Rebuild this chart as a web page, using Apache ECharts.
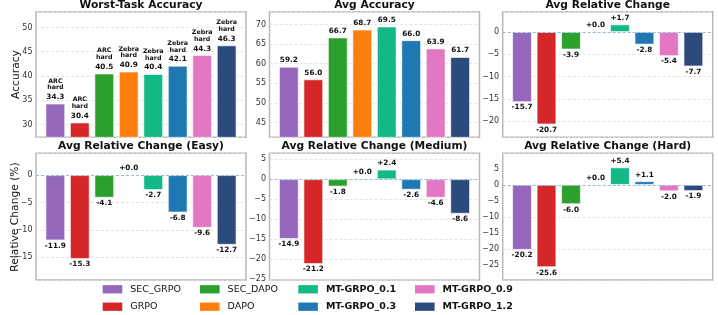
<!DOCTYPE html>
<html>
<head>
<meta charset="utf-8">
<script src="https://cdn.jsdelivr.net/npm/echarts@6/dist/echarts.min.js"></script>
<style>
html,body{margin:0;padding:0;background:#fff;}
#main{width:718px;height:315px;}
</style>
</head>
<body>
<div id="main"></div>
<script>
// ---- data ----
const methods = ['SEC_GRPO', 'GRPO', 'SEC_DAPO', 'DAPO', 'MT-GRPO_0.1', 'MT-GRPO_0.3', 'MT-GRPO_0.9', 'MT-GRPO_1.2'];
const worstTaskNames = ['ARC hard', 'ARC hard', 'ARC hard', 'Zebra hard', 'Zebra hard', 'Zebra hard', 'Zebra hard', 'Zebra hard'];
const worstTaskAccuracy = [34.3, 30.4, 40.5, 40.9, 40.4, 42.1, 44.3, 46.3];
const avgAccuracy = [59.2, 56.0, 66.7, 68.7, 69.5, 66.0, 63.9, 61.7];
const avgRelChange = [-15.7, -20.7, -3.9, 0.0, 1.7, -2.8, -5.4, -7.7];
const easyRelChange = [-11.9, -15.3, -4.1, 0.0, -2.7, -6.8, -9.6, -12.7];
const mediumRelChange = [-14.9, -21.2, -1.8, 0.0, 2.4, -2.6, -4.6, -8.6];
const hardRelChange = [-20.2, -25.6, -6.0, 0.0, 5.4, 1.1, -2.0, -1.9];
const ticksWorst = [30, 35, 40, 45, 50];
const ticksAvg = [45, 50, 55, 60, 65, 70];
const ticksRel = [-20, -15, -10, -5, 0];
const ticksEasy = [-15, -10, -5, 0];
const ticksMedium = [-25, -20, -15, -10, -5, 0, 5];
const ticksHard = [-25, -20, -15, -10, -5, 0, 5];

// ---- styles ----
const colors = ['#9467bd', '#d62728', '#2ca02c', '#ff7f0e', '#12b886', '#1f77b4', '#e377c2', '#2d4a7c'];
const FONT = 'DejaVu Sans';

const panels = [
  {title: 'Worst-Task Accuracy', values: worstTaskAccuracy, ticks: ticksWorst, min: 27.36, max: 53.25, left: 36, top: 11.7, h: 125.6, kind: 'worst'},
  {title: 'Avg Accuracy', values: avgAccuracy, ticks: ticksAvg, min: 41.2, max: 73.3, left: 269.5, top: 11.7, h: 125.6, kind: 'acc'},
  {title: 'Avg Relative Change', values: avgRelChange, ticks: ticksRel, min: -23.6, max: 4.55, left: 502.7, top: 11.7, h: 125.6, kind: 'rel'},
  {title: 'Avg Relative Change (Easy)', values: easyRelChange, ticks: ticksEasy, min: -19.15, max: 4.0, left: 36, top: 153.3, h: 126.7, kind: 'rel'},
  {title: 'Avg Relative Change (Medium)', values: mediumRelChange, ticks: ticksMedium, min: -25.2, max: 6.5, left: 269.5, top: 153.3, h: 126.7, kind: 'rel'},
  {title: 'Avg Relative Change (Hard)', values: hardRelChange, ticks: ticksHard, min: -29.6, max: 9.8, left: 502.7, top: 153.3, h: 126.7, kind: 'rel'}
];
const PW = 210;
const XMIN = -0.79, XMAX = 7.79;
const barW = 0.8 * PW / (XMAX - XMIN);

const grid = [], xAxis = [], yAxis = [], series = [], graphic = [];
panels.forEach((p, pi) => {
  grid.push({left: p.left, top: p.top, width: PW, height: p.h, show: true,
    borderColor: '#b8b8b8', borderWidth: 1.5, backgroundColor: 'transparent', containLabel: false});
  xAxis.push({type: 'value', gridIndex: pi, min: XMIN, max: XMAX, show: false, splitLine: {show: false}});
  yAxis.push({type: 'value', gridIndex: pi, min: p.min, max: p.max,
    axisLine: {show: false},
    axisTick: {show: false},
    axisLabel: {customValues: p.ticks, fontFamily: FONT, fontSize: 8, color: '#333', margin: 3.5,
      formatter: v => String(v).replace('-', '\u2212')},
    splitLine: {show: true, lineStyle: {type: [3, 2], color: '#dedede', width: 0.8}}
  });
  graphic.push({type: 'text', silent: true, x: p.left + PW / 2, y: p.top - 6.6,
    style: {text: p.title, fill: '#111', font: 'bold 10.7px "DejaVu Sans"', textAlign: 'center', textVerticalAlign: 'middle'}});

  methods.forEach((m, i) => {
    const v = p.values[i];
    let label;
    if (p.kind === 'worst') {
      const parts = worstTaskNames[i].split(' ');
      label = {show: true, position: 'top', distance: 0.5,
        formatter: () => '{t|' + parts[0] + '}\n{t|' + parts[1] + '}\n{v|' + v.toFixed(1) + '}',
        rich: {t: {fontFamily: FONT, fontWeight: 'bold', fontSize: 6.3, lineHeight: 6.8, color: '#111', align: 'center'},
               v: {fontFamily: FONT, fontWeight: 'bold', fontSize: 7.3, lineHeight: 12, color: '#111', align: 'center'}}};
    } else if (p.kind === 'acc') {
      label = {show: true, position: 'top', distance: 1, fontFamily: FONT, fontWeight: 'bold', fontSize: 7.3,
        lineHeight: 11, color: '#111', formatter: () => v.toFixed(1)};
    } else {
      label = {show: true, position: v >= 0 ? 'top' : 'bottom', distance: v >= 0 ? 1.5 : 0.5,
        fontFamily: FONT, fontWeight: 'bold', fontSize: 7.3, lineHeight: 10, color: '#111',
        formatter: () => (v >= 0 ? '+' : '') + v.toFixed(1)};
    }
    const s = {
      type: 'bar', name: m, xAxisIndex: pi, yAxisIndex: pi,
      data: [[i, v]], barWidth: barW, barGap: '-100%',
      itemStyle: {color: colors[i], borderColor: 'rgba(255,255,255,0.75)', borderWidth: 0.8},
      label: label, animation: false, silent: true
    };
    if (p.kind === 'rel' && i === 0) {
      s.markLine = {silent: true, symbol: 'none', animation: false,
        data: [{yAxis: 0}], label: {show: false},
        lineStyle: {type: [3, 2], color: '#8db5d6', width: 0.9}};
    }
    series.push(s);
  });
});

graphic.push({type: 'text', silent: true, x: 16.5, y: 74.5, rotation: Math.PI / 2,
  style: {text: 'Accuracy', fill: '#111', font: '10.7px "DejaVu Sans"', textAlign: 'center', textVerticalAlign: 'middle'}});
graphic.push({type: 'text', silent: true, x: 15.5, y: 217, rotation: Math.PI / 2,
  style: {text: 'Relative Change (%)', fill: '#111', font: '10.7px "DejaVu Sans"', textAlign: 'center', textVerticalAlign: 'middle'}});

const legendCols = [
  {left: 102.7, data: [methods[0], methods[1]], bold: false},
  {left: 200, data: [methods[2], methods[3]], bold: false},
  {left: 298.3, data: [methods[4], methods[5]], bold: true},
  {left: 415, data: [methods[6], methods[7]], bold: true}
];
const legend = legendCols.map(c => ({
  left: c.left, top: 284.3, orient: 'vertical', padding: 0, itemGap: 7.4,
  itemWidth: 19.6, itemHeight: 8.3, icon: 'rect', data: c.data, selectedMode: false,
  itemStyle: {borderWidth: 0},
  textStyle: {fontFamily: FONT, fontSize: 9.5, lineHeight: 10, color: '#111',
    fontWeight: c.bold ? 'bold' : 'normal', padding: [0, 0, 0, 3]}
}));

const chart = echarts.init(document.getElementById('main'), null, {renderer: 'canvas'});
chart.setOption({
  backgroundColor: '#fff',
  animation: false,
  grid, xAxis, yAxis, series, legend, graphic
});
</script>
</body>
</html>
